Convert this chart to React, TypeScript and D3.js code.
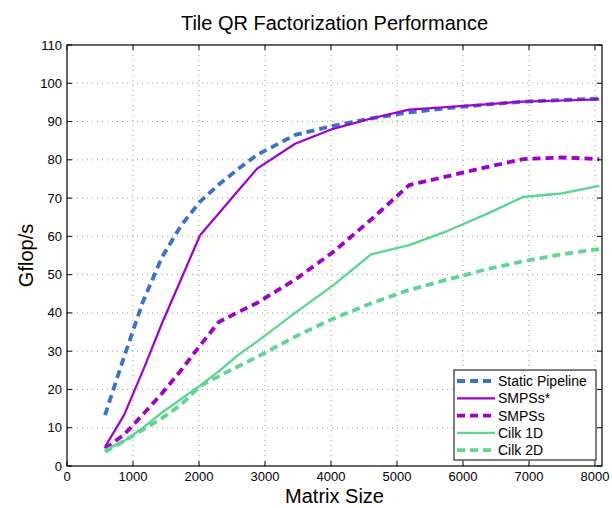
import React from "react";
import * as d3 from "d3";

const sizes = [576, 864, 1152, 1440, 1728, 2016, 2304, 2592, 2880, 3456, 4032, 4608, 5184, 5760, 6336, 6912, 7488, 8064];
const staticPipeline = [13.3, 28.5, 43, 54.6, 62.8, 69.1, 73.6, 77.6, 81.3, 86.5, 88.9, 90.8, 92.4, 93.5, 94.4, 95.2, 95.6, 96];
const smpssStar = [5.0, 13.3, 25, 37.3, 48.8, 60.3, 66.1, 71.9, 77.7, 84.2, 88.1, 90.8, 93.1, 93.8, 94.5, 95.2, 95.5, 95.8];
const smpss = [4.5, 8.2, 13.5, 19, 25, 31.5, 37.7, 40.2, 42.6, 48.7, 55.9, 64.4, 73.4, 75.7, 78, 80.2, 80.6, 80.2];
const cilk1D = [4.2, 6.5, 10, 14, 17.5, 21, 24.8, 29, 32.5, 40, 47.2, 55.3, 57.7, 61.4, 65.7, 70.3, 71.2, 73.2];
const cilk2D = [3.7, 6.5, 9.5, 12.5, 16, 20.9, 23.5, 26, 28.5, 33.8, 38.5, 42.5, 46, 48.7, 51.3, 53.5, 55.3, 56.7];

const seriesNames = ["Static Pipeline", "SMPSs*", "SMPSs", "Cilk 1D", "Cilk 2D"];
const seriesValues = [staticPipeline, smpssStar, smpss, cilk1D, cilk2D];
const seriesColors = ["#3a70cf", "#a000cc", "#a000cc", "#5cd690", "#5cd690"];
const seriesDash = ["8,5", null, "8,5", null, "8,5"];
const seriesWidth = [3.8, 2.2, 3.8, 2.4, 3.8];

const xTicks = [0, 1000, 2000, 3000, 4000, 5000, 6000, 7000, 8000];
const yTicks = [0, 10, 20, 30, 40, 50, 60, 70, 80, 90, 100, 110];

const W = 612;
const H = 508;
const L = 67, R = 602, T = 45, B = 466;
const font = "Liberation Sans, Arial, Helvetica, sans-serif";

export default function App() {
  const x = d3.scaleLinear().domain([0, 8106]).range([L, R]);
  const y = d3.scaleLinear().domain([0, 110]).range([B, T]);
  const line = d3
    .line<number>()
    .x((_, i) => x(sizes[i]))
    .y((d) => y(d));

  const legX = 454, legY = 370, legW = 142, legH = 90;

  return (
    <svg width={W} height={H} style={{ position: "absolute", left: 0, top: 0, background: "#fff" }} fontFamily={font}>
      <rect x={0} y={0} width={W} height={H} fill="#fff" />
      {/* grid */}
      {xTicks.slice(1).map((t) => (
        <line key={"gx" + t} x1={x(t)} x2={x(t)} y1={T} y2={B} stroke="#999" strokeWidth={1} strokeDasharray="1,4" />
      ))}
      {yTicks.slice(1, -1).map((t) => (
        <line key={"gy" + t} x1={L} x2={R} y1={y(t)} y2={y(t)} stroke="#999" strokeWidth={1} strokeDasharray="1,4" />
      ))}
      {/* series */}
      {seriesValues.map((vals, i) => (
        <path
          key={"s" + i}
          d={line(vals) || ""}
          fill="none"
          stroke={seriesColors[i]}
          strokeWidth={seriesWidth[i]}
          strokeDasharray={seriesDash[i] || undefined}
          strokeLinejoin="round"
        />
      ))}
      {/* ticks */}
      {xTicks.map((t) => (
        <g key={"tx" + t}>
          <line x1={x(t)} x2={x(t)} y1={B} y2={B - 5} stroke="#000" />
          <line x1={x(t)} x2={x(t)} y1={T} y2={T + 5} stroke="#000" />
          <text x={x(t)} y={B + 15} textAnchor="middle" fontSize={13} fill="#000">
            {t}
          </text>
        </g>
      ))}
      {yTicks.map((t) => (
        <g key={"ty" + t}>
          <line x1={L} x2={L + 5} y1={y(t)} y2={y(t)} stroke="#000" />
          <line x1={R} x2={R - 5} y1={y(t)} y2={y(t)} stroke="#000" />
          <text x={L - 5} y={y(t) + 4.5} textAnchor="end" fontSize={13} fill="#000">
            {t}
          </text>
        </g>
      ))}
      <rect x={L} y={T} width={R - L} height={B - T} fill="none" stroke="#000" strokeWidth={1.2} />
      {/* titles */}
      <text x={(L + R) / 2} y={30} textAnchor="middle" fontSize={20} fill="#000">
        Tile QR Factorization Performance
      </text>
      <text x={(L + R) / 2} y={503} textAnchor="middle" fontSize={20} fill="#000">
        Matrix Size
      </text>
      <text transform={`translate(33, ${(T + B) / 2}) rotate(-90)`} textAnchor="middle" fontSize={20} fill="#000">
        Gflop/s
      </text>
      {/* legend */}
      <rect x={legX} y={legY} width={legW} height={legH} fill="#fff" stroke="#000" strokeWidth={1} />
      {seriesNames.map((name, i) => {
        const cy = legY + 11 + i * 17.3;
        return (
          <g key={"l" + i}>
            <line
              x1={legX + 3}
              x2={legX + 41}
              y1={cy}
              y2={cy}
              stroke={seriesColors[i]}
              strokeWidth={seriesWidth[i]}
              strokeDasharray={seriesDash[i] || undefined}
            />
            <text x={legX + 44} y={cy + 5} fontSize={14} fill="#000">
              {name}
            </text>
          </g>
        );
      })}
    </svg>
  );
}
